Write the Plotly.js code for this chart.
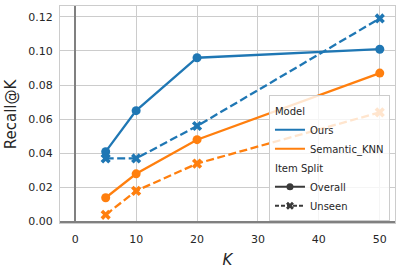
<!DOCTYPE html>
<html>
<head>
<meta charset="utf-8">
<script src="https://cdn.plot.ly/plotly-3.0.1.min.js"></script>
<style>html,body{margin:0;padding:0;background:#fff;}#chart{width:402px;height:271px;}</style>
</head>
<body>
<div id="chart"></div>
<script>
const kValues = [5, 10, 20, 50];
const oursOverall = [0.041, 0.065, 0.096, 0.101];
const oursUnseen = [0.037, 0.037, 0.056, 0.119];
const knnOverall = [0.014, 0.028, 0.048, 0.087];
const knnUnseen = [0.004, 0.018, 0.034, 0.064];
const models = ['Ours', 'Semantic_KNN'];
const splits = ['Overall', 'Unseen'];
const xTicks = [0, 10, 20, 30, 40, 50];
const yTicks = [0, 0.02, 0.04, 0.06, 0.08, 0.10, 0.12];

const colors = {Ours: '#1f77b4', Semantic_KNN: '#ff7f0e'};
const dashes = {Overall: 'solid', Unseen: '8px,3.5px'};
const symbols = {Overall: 'circle', Unseen: 'x'};
const series = {
  Ours: {Overall: oursOverall, Unseen: oursUnseen},
  Semantic_KNN: {Overall: knnOverall, Unseen: knnUnseen}
};

const traces = [];
models.forEach(m => {
  splits.forEach(s => {
    traces.push({
      x: kValues, y: series[m][s], type: 'scatter', mode: 'lines+markers',
      line: {color: colors[m], width: 2.3, dash: dashes[s]},
      marker: {color: colors[m], symbol: symbols[s], size: 9, line: {width: 0}},
      showlegend: false, hoverinfo: 'skip'
    });
  });
});
// legend entries (seaborn-style)
models.forEach(m => {
  traces.push({
    x: [null], y: [null], type: 'scatter', mode: 'lines', name: m,
    line: {color: colors[m], width: 2},
    legendgroup: 'model', legendgrouptitle: {text: 'Model', font: {size: 10, color: '#262626'}},
    showlegend: true
  });
});
splits.forEach(s => {
  traces.push({
    x: [null], y: [null], type: 'scatter', mode: 'lines+markers', name: s,
    line: {color: '#3a3a3a', width: 2, dash: s === 'Overall' ? 'solid' : '4px,2px'},
    marker: {color: '#3a3a3a', symbol: symbols[s], size: 7},
    legendgroup: 'split', legendgrouptitle: {text: 'Item Split', font: {size: 10, color: '#262626'}},
    showlegend: true
  });
});

const layout = {
  width: 402, height: 271,
  margin: {l: 60, r: 7, t: 6, b: 48},
  paper_bgcolor: '#ffffff', plot_bgcolor: '#ffffff',
  font: {family: 'DejaVu Sans', size: 10, color: '#262626'},
  xaxis: {
    range: [-2.5, 52.5], tickvals: xTicks,
    showgrid: true, gridcolor: '#cccccc', gridwidth: 1,
    zeroline: true, zerolinecolor: '#808080', zerolinewidth: 2,
    showline: true, linecolor: '#cccccc', linewidth: 1, mirror: true,
    ticks: '', ticklen: 0, ticklabelstandoff: 6,
    tickfont: {size: 11, color: '#262626'},
    title: {text: '<i>K</i>', font: {size: 15, color: '#262626'}, standoff: 9}
  },
  yaxis: {
    range: [-0.0008, 0.1263], tickvals: yTicks,
    tickformat: '.2f',
    showgrid: true, gridcolor: '#cccccc', gridwidth: 1,
    zeroline: true, zerolinecolor: '#808080', zerolinewidth: 2,
    showline: true, linecolor: '#cccccc', linewidth: 1, mirror: true,
    ticks: '', ticklen: 0, ticklabelstandoff: 4,
    tickfont: {size: 11, color: '#262626'},
    title: {text: 'Recall@K', font: {size: 15, color: '#262626'}, standoff: 8}
  },
  legend: {
    x: 0.985, y: 0.008, xanchor: 'right', yanchor: 'bottom',
    bgcolor: 'rgba(255,255,255,0.8)', bordercolor: '#cccccc', borderwidth: 1,
    font: {size: 10, color: '#262626'},
    tracegroupgap: 0, itemwidth: 30
  }
};

Plotly.newPlot('chart', traces, layout, {displayModeBar: false, staticPlot: true});
</script>
</body>
</html>
